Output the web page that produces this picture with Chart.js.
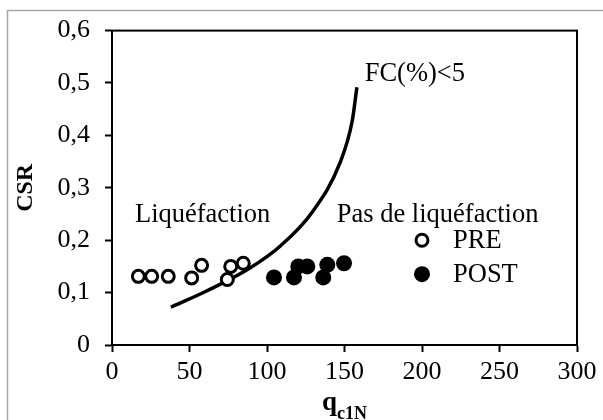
<!DOCTYPE html>
<html>
<head>
<meta charset="utf-8">
<script src="https://cdn.jsdelivr.net/npm/chart.js@4/dist/chart.umd.min.js"></script>
<style>
  body { margin: 0; background: #fff; }
  #wrap { width: 603px; height: 420px; position: relative; }
</style>
</head>
<body>
<div id="wrap"><canvas id="chart"></canvas></div>
<script>
// Courbe limite FC(%)<5
const curveX = [38, 61, 89, 109, 129, 147, 155, 158];
const curveY = [0.072, 0.103, 0.147, 0.19, 0.253, 0.347, 0.428, 0.492];

// Essais avant traitement (PRE)
const preX = [17, 25.6, 36.3, 51.4, 57.8, 74.4, 76.6, 84.7];
const preY = [0.131, 0.131, 0.131, 0.128, 0.152, 0.125, 0.15, 0.156];

// Essais après traitement (POST)
const postX = [104.5, 117.4, 120.2, 126, 136.3, 138.9, 149.7];
const postY = [0.129, 0.129, 0.15, 0.15, 0.129, 0.153, 0.156];

const xTicks = [0, 50, 100, 150, 200, 250, 300];
const yTicks = [0, 0.1, 0.2, 0.3, 0.4, 0.5, 0.6];

const FONT = '"Liberation Serif", "Times New Roman", serif';

const toPoints = (xs, ys) => xs.map((x, i) => ({ x: x, y: ys[i] }));

// Cadre, bordure du graphique, textes et légende
const decor = {
  id: 'decor',
  beforeDraw(chart) {
    const ctx = chart.ctx;
    ctx.save();
    ctx.fillStyle = '#fff';
    ctx.fillRect(0, 0, chart.width, chart.height);
    ctx.strokeStyle = '#a6a6a6';
    ctx.lineWidth = 1.5;
    ctx.strokeRect(7.5, 10.5, chart.width + 20, chart.height + 20);
    ctx.restore();
  },
  afterDraw(chart) {
    const ctx = chart.ctx;
    const a = chart.chartArea;
    const sx = chart.scales.x;
    const sy = chart.scales.y;
    ctx.save();
    ctx.strokeStyle = '#000';
    ctx.lineWidth = 2;
    ctx.strokeRect(a.left, a.top, a.right - a.left, a.bottom - a.top);

    ctx.fillStyle = '#000';
    ctx.font = '26.5px ' + FONT;
    ctx.textBaseline = 'alphabetic';
    ctx.textAlign = 'left';
    ctx.fillText('FC(%)<5', sx.getPixelForValue(163), sy.getPixelForValue(0.503));
    ctx.fillText('Liquéfaction', sx.getPixelForValue(14.8), sy.getPixelForValue(0.234));
    ctx.fillText('Pas de liquéfaction', sx.getPixelForValue(145), sy.getPixelForValue(0.234));

    // légende
    const lx = sx.getPixelForValue(200);
    const rows = [
      { label: 'PRE', ds: chart.data.datasets[1], y: sy.getPixelForValue(0.2) },
      { label: 'POST', ds: chart.data.datasets[2], y: sy.getPixelForValue(0.2) + 34 }
    ];
    rows.forEach(r => {
      ctx.beginPath();
      ctx.arc(lx, r.y, r.ds.pointRadius, 0, Math.PI * 2);
      ctx.fillStyle = r.ds.pointBackgroundColor;
      ctx.fill();
      if (r.ds.pointBorderWidth) {
        ctx.lineWidth = r.ds.pointBorderWidth;
        ctx.strokeStyle = r.ds.pointBorderColor;
        ctx.stroke();
      }
      ctx.fillStyle = '#000';
      ctx.textBaseline = 'middle';
      ctx.font = '26.5px ' + FONT;
      ctx.fillText(r.label, lx + 31, r.y + 1);
    });

    // titre axe Y
    ctx.save();
    ctx.translate(26, (a.top + a.bottom) / 2);
    ctx.rotate(-Math.PI / 2);
    ctx.textAlign = 'center';
    ctx.textBaseline = 'middle';
    ctx.font = 'bold 24px ' + FONT;
    ctx.fillText('CSR', 0, 0);
    ctx.restore();

    // titre axe X : q c1N
    ctx.font = 'bold 27px ' + FONT;
    const wq = ctx.measureText('q').width;
    ctx.font = 'bold 18px ' + FONT;
    const ws = ctx.measureText('c1N').width;
    const cx = (a.left + a.right) / 2;
    const x0 = cx - (wq + ws) / 2;
    ctx.textAlign = 'left';
    ctx.textBaseline = 'alphabetic';
    ctx.font = 'bold 27px ' + FONT;
    ctx.fillText('q', x0, 410);
    ctx.font = 'bold 18px ' + FONT;
    ctx.fillText('c1N', x0 + wq, 419);
    ctx.restore();
  }
};

new Chart(document.getElementById('chart'), {
  type: 'scatter',
  data: {
    datasets: [
      {
        label: 'FC(%)<5',
        data: toPoints(curveX, curveY),
        showLine: true,
        borderColor: '#000',
        borderWidth: 3.5,
        pointRadius: 0,
        cubicInterpolationMode: 'monotone',
        order: 2
      },
      {
        label: 'PRE',
        data: toPoints(preX, preY),
        pointRadius: 6,
        pointBorderWidth: 3,
        pointBorderColor: '#000',
        pointBackgroundColor: '#fff',
        order: 1
      },
      {
        label: 'POST',
        data: toPoints(postX, postY),
        pointRadius: 8,
        pointBorderWidth: 0,
        pointBorderColor: '#000',
        pointBackgroundColor: '#000',
        order: 1
      }
    ]
  },
  options: {
    responsive: true,
    maintainAspectRatio: false,
    animation: false,
    layout: { padding: { left: 0, right: 26, top: 25, bottom: 0 } },
    plugins: {
      legend: { display: false },
      tooltip: { enabled: false }
    },
    scales: {
      x: {
        type: 'linear',
        min: 0,
        max: 300,
        afterBuildTicks: s => { s.ticks = xTicks.map(v => ({ value: v })); },
        afterFit: s => { s.height = 75; },
        ticks: { font: { family: FONT, size: 26 }, color: '#000', padding: 5 },
        grid: { drawOnChartArea: false, tickLength: 7, tickColor: '#000', tickWidth: 2 },
        border: { color: '#000', width: 2 }
      },
      y: {
        type: 'linear',
        min: 0,
        max: 0.6,
        afterBuildTicks: s => { s.ticks = yTicks.map(v => ({ value: v })); },
        afterFit: s => { s.width = 112; },
        ticks: {
          font: { family: FONT, size: 26 },
          color: '#000',
          padding: 15,
          callback: v => v === 0 ? '0' : v.toFixed(1).replace('.', ',')
        },
        grid: { drawOnChartArea: false, tickLength: 7, tickColor: '#000', tickWidth: 2 },
        border: { color: '#000', width: 2 }
      }
    }
  },
  plugins: [decor]
});
</script>
</body>
</html>
